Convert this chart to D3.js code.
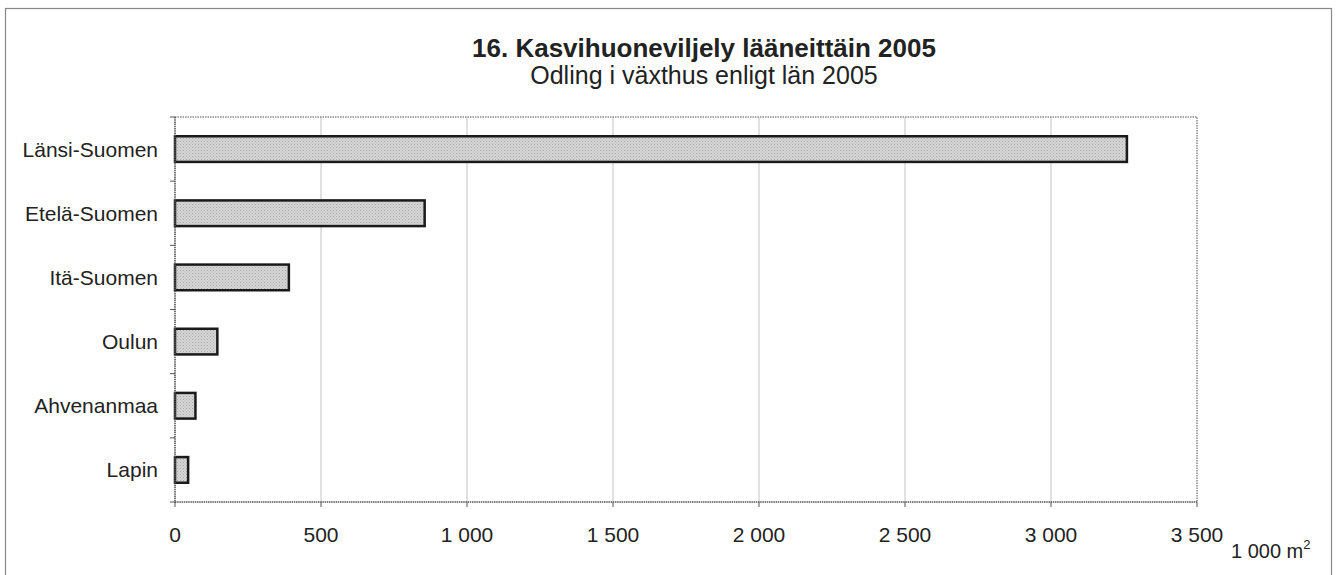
<!DOCTYPE html>
<html><head><meta charset="utf-8">
<script src="https://cdn.jsdelivr.net/npm/d3@7"></script>
<style>body{margin:0;background:#fff;} text{font-family:"Liberation Sans",Arial,sans-serif;fill:#222;}</style>
</head><body>
<svg id="c" width="1343" height="575"></svg>
<script>
const categories = ["Länsi-Suomen","Etelä-Suomen","Itä-Suomen","Oulun","Ahvenanmaa","Lapin"];
const values = [3260, 855, 390, 145, 70, 45];
const xTicks = [0,500,1000,1500,2000,2500,3000,3500];
const title = "16. Kasvihuoneviljely lääneittäin 2005";
const subtitle = "Odling i växthus enligt län 2005";

const svg = d3.select("#c");
const defs = svg.append("defs");
const pat = defs.append("pattern").attr("id","dots").attr("width",3).attr("height",3).attr("patternUnits","userSpaceOnUse");
pat.append("rect").attr("width",3).attr("height",3).attr("fill","#d6d6d6");
pat.append("rect").attr("width",1).attr("height",1).attr("fill","#a8a8a8");
pat.append("rect").attr("x",1.5).attr("y",1.5).attr("width",1).attr("height",1).attr("fill","#b4b4b4");

// outer frame
svg.append("rect").attr("x",5.5).attr("y",8.5).attr("width",1326).attr("height",580)
  .attr("fill","none").attr("stroke","#888").attr("stroke-width",1.2);

const L=175, R=1197, T=117, B=502;
const x = d3.scaleLinear().domain([0,3500]).range([L,R]);
const y = d3.scaleBand().domain(categories).range([T,B]).paddingInner(0.6).paddingOuter(0.3);
const yb = d3.scaleBand().domain(categories).range([T,B]);

// gridlines
svg.append("g").selectAll("line").data(xTicks.slice(1,-1)).join("line")
  .attr("x1",d=>x(d)).attr("x2",d=>x(d)).attr("y1",T).attr("y2",B)
  .attr("stroke","#c4c4c4").attr("stroke-width",1);

// plot frame (top & right)
svg.append("path").attr("d",`M${L},${T}H${R}V${B}`).attr("fill","none")
  .attr("stroke","#8a8a8a").attr("stroke-width",1.5).attr("stroke-dasharray","1.5,1");

// bars
svg.append("g").selectAll("rect").data(values).join("rect")
  .attr("x",x(0)).attr("y",(d,i)=>y(categories[i]))
  .attr("width",d=>x(d)-x(0)).attr("height",y.bandwidth())
  .attr("fill","url(#dots)").attr("stroke","#1a1a1a").attr("stroke-width",2.5);

// axes lines
svg.append("line").attr("x1",L).attr("x2",L).attr("y1",T).attr("y2",B+1)
  .attr("stroke","#555").attr("stroke-width",1.6).attr("stroke-dasharray","1.5,0.7");
svg.append("line").attr("x1",L).attr("x2",R).attr("y1",B).attr("y2",B)
  .attr("stroke","#555").attr("stroke-width",1.6).attr("stroke-dasharray","1.5,0.7");

// y ticks at band boundaries
const bounds = categories.map(c=>yb(c)).concat([B]);
svg.append("g").selectAll("line").data(bounds).join("line")
  .attr("x1",L-5).attr("x2",L).attr("y1",d=>d).attr("y2",d=>d).attr("stroke","#555").attr("stroke-width",1);
// x ticks
svg.append("g").selectAll("line").data(xTicks).join("line")
  .attr("x1",d=>x(d)).attr("x2",d=>x(d)).attr("y1",B).attr("y2",B+5).attr("stroke","#555").attr("stroke-width",1);

// labels
const fmt = d => d3.format(",")(d).replace(/,/g," ");
svg.append("g").selectAll("text").data(xTicks).join("text")
  .attr("x",d=>x(d)).attr("y",542).attr("text-anchor","middle").attr("font-size",21).text(fmt);
svg.append("g").selectAll("text").data(categories).join("text")
  .attr("x",158).attr("y",d=>yb(d)+yb.bandwidth()/2+7.5).attr("text-anchor","end").attr("font-size",21).text(d=>d);

svg.append("text").attr("x",704).attr("y",57).attr("text-anchor","middle").attr("font-size",26).attr("font-weight","bold").text(title);
svg.append("text").attr("x",704).attr("y",84).attr("text-anchor","middle").attr("font-size",25).text(subtitle);

const u = svg.append("text").attr("x",1231).attr("y",558).attr("font-size",20);
u.append("tspan").text("1 000 m");
u.append("tspan").attr("dy",-9).attr("font-size",13).text("2");
</script>
</body></html>
